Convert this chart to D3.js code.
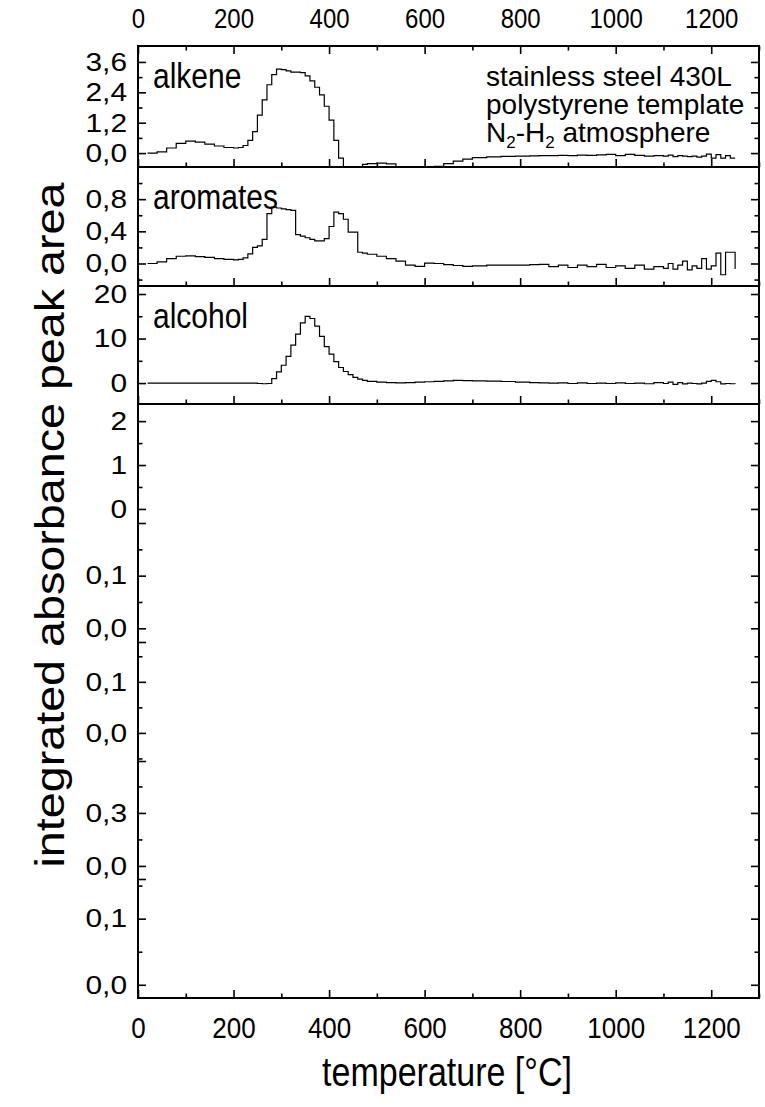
<!DOCTYPE html>
<html lang="en">
<head>
<meta charset="UTF-8">
<title>Evolved gas analysis - stainless steel 430L</title>
<script src="https://cdn.jsdelivr.net/npm/d3@7"></script>
<style>
    body{ margin:0; background:#fff; }
    svg{ display:block; font-family:"Liberation Sans", Arial, sans-serif; }
    .frame{ stroke:#000; stroke-width:2px; fill:none; }
    .axis path{ display:none; }
    .axis line{ stroke:#000; stroke-width:1.6px; }
    .axis text{ fill:#000; }
    .trace{ fill:none; stroke:#000; stroke-width:1.2px; }
    .plabel{ font-size:30px; }
    .note{ font-size:28px; }
</style>
</head>
<body>
<svg id="chart"></svg>
<script>
// temperature grid [°C]
const temps = [20,40,60,80,100,120,140,160,180,200,210,220,230,240,250,260,270,280,290,300,
    310,320,330,340,350,360,370,380,390,400,410,420,430,440,450,460,470,480,500,520,
    540,560,580,600,620,640,660,680,700,730,760,790,820,840,860,880,900,920,940,960,
    980,1000,1020,1040,1060,1080,1100,1110,1120,1130,1140,1150,1160,1170,1180,1190,1200,1210,1220,1230,
    1240,1250];

const alkene = [0.0,0.05,0.2,0.38,0.47,0.43,0.35,0.28,0.22,0.2,0.22,0.3,0.5,0.85,1.5,2.1,2.7,3.1,3.32,3.3,
    3.25,3.2,3.2,3.18,3.05,2.85,2.6,2.3,1.85,1.3,0.5,-0.2,-0.7,-0.7,-0.7,-0.7,-0.45,-0.42,-0.4,-0.43,
    -0.7,-0.7,-0.7,-0.7,-0.52,-0.42,-0.32,-0.24,-0.18,-0.15,-0.13,-0.12,-0.11,-0.1,-0.1,-0.09,-0.1,-0.08,-0.09,-0.07,
    -0.05,-0.1,-0.05,-0.09,-0.12,-0.1,-0.12,-0.08,-0.14,-0.1,-0.12,-0.14,-0.12,-0.16,-0.12,-0.04,-0.2,-0.06,-0.2,-0.1,
    -0.2,-0.2];

const aromates = [0.0,0.02,0.06,0.09,0.095,0.085,0.075,0.06,0.05,0.045,0.05,0.07,0.12,0.2,0.22,0.3,0.62,0.7,0.69,0.68,
    0.67,0.66,0.36,0.34,0.32,0.3,0.28,0.28,0.31,0.46,0.64,0.62,0.55,0.39,0.39,0.14,0.13,0.115,0.09,0.06,
    0.03,-0.02,-0.035,0.005,0.0,-0.015,-0.025,-0.035,-0.03,-0.02,-0.02,-0.02,-0.015,-0.01,-0.04,-0.02,-0.05,-0.02,-0.04,-0.01,
    -0.05,-0.03,-0.06,-0.02,-0.07,-0.04,-0.06,0.0,-0.07,-0.02,0.03,-0.08,-0.03,-0.06,0.06,-0.07,-0.03,0.13,-0.14,0.14,
    0.14,-0.07];

const alcohol = [0,0,0,0,0,0,0,0,0,0,0,0,0,0,-0.1,-0.15,-0.1,1.0,2.5,4.0,
    6.0,8.5,11.0,13.5,15.0,14.5,12.8,10.5,8.2,6.5,4.8,3.5,2.6,1.9,1.3,0.9,0.6,0.4,0.2,0.1,
    0.05,0.1,0.2,0.3,0.4,0.5,0.6,0.55,0.5,0.45,0.35,0.2,0.1,0.05,0.0,0.05,-0.1,0.05,-0.1,0.0,
    -0.1,0.05,-0.1,0.0,-0.15,0.1,-0.1,0.2,-0.3,0.1,-0.2,0.0,-0.1,-0.2,0.0,0.4,0.6,0.3,-0.2,-0.1,
    -0.15,-0.2];

// stacked layers, top to bottom
const panelNames   = ["alkene","aromates","alcohol","","","","",""];
const panelSeries  = [alkene, aromates, alcohol, null, null, null, null, null];
const panelDomains = [[-0.55,4.23],[-0.28,1.2],[-4.7,21.8],[-0.32,2.39],[-0.026,0.2],[-0.055,0.178],[-0.074,0.594],[-0.02,0.16]];
const panelMajor   = [[0,1.2,2.4,3.6],[0,0.4,0.8],[0,10,20],[0,1,2],[0,0.1],[0,0.1],[0,0.3],[0,0.1]];
const panelMinor   = [[0.6,1.8,3.0],[-0.2,0.2,0.6,1.0],[5,15],[0.5,1.5],[0.05,0.15],[-0.05,0.05,0.15],[0.15,0.45],[0.05,0.15]];
const panelDigits  = [1,1,0,0,1,1,1,1];

const xMajor = [0,200,400,600,800,1000,1200];
const xMinor = [100,300,500,700,900,1100,1300];
const noteLines = ["stainless steel 430L","polystyrene template"];

const width = 765, height = 1107;
const plotLeft = 138, plotRight = 759, plotTop = 46, plotBottom = 998;
const panelTops = [46,167,286,404,523,642,761,879,998];
const vs = 1.17;   // the original figure is a bit stretched vertically

const svg = d3.select('#chart').attr('width', width).attr('height', height);
const comma = d3.formatLocale({decimal: ",", thousands: ".", grouping: [3], currency: ["", ""]});

const x = d3.scaleLinear().domain([0,1300]).range([plotLeft,plotRight]);

// stretch text vertically around its own baseline
function stretch(sel){
    sel.each(function(){
        const t = d3.select(this);
        const yy = +t.attr('y') || 0;
        t.attr('transform', `translate(0,${yy}) scale(1,${vs}) translate(0,${-yy})`);
    });
}
// widen y tick labels around their right edge (keeps stacked labels apart)
function widen(sel){
    sel.each(function(){
        const t = d3.select(this);
        const xx = +t.attr('x') || 0;
        t.attr('transform', `translate(${xx},0) scale(1.15,1) translate(${-xx},0)`);
    });
}

const defs = svg.append('defs');

panelNames.forEach(function(name, i){
    const y0 = panelTops[i], y1 = panelTops[i+1];
    const y = d3.scaleLinear().domain(panelDomains[i]).range([y1, y0]);
    const g = svg.append('g').attr('class','panel');
    const empty = panelSeries[i] === null;
    const fmt = comma.format('.' + panelDigits[i] + 'f');

    // left / right axes, ticks point inward
    g.append('g').attr('class','axis').attr('transform',`translate(${plotLeft},0)`)
        .call(d3.axisLeft(y).tickValues(panelMajor[i]).tickSize(-8).tickPadding(11).tickFormat(fmt))
        .attr('font-size',26).attr('font-family',null)
        .call(a => widen(a.selectAll('text')));
    g.append('g').attr('class','axis').attr('transform',`translate(${plotLeft},0)`)
        .call(d3.axisLeft(y).tickValues(panelMinor[i]).tickSize(-4.5).tickFormat(''));
    g.append('g').attr('class','axis').attr('transform',`translate(${plotRight},0)`)
        .call(d3.axisRight(y).tickValues(panelMajor[i]).tickSize(-8).tickFormat(''));
    g.append('g').attr('class','axis').attr('transform',`translate(${plotRight},0)`)
        .call(d3.axisRight(y).tickValues(panelMinor[i]).tickSize(-4.5).tickFormat(''));

    if (empty && i < panelNames.length-1) {
        // end tick of the layer's axis
        g.append('g').attr('class','axis').attr('transform',`translate(${plotLeft},0)`)
            .call(d3.axisLeft(y).tickValues([panelDomains[i][0]]).tickSize(-8).tickFormat(''));
    }

    if (!empty) {
        // bottom ticks of each data layer
        g.append('g').attr('class','axis').attr('transform',`translate(0,${y1})`)
            .call(d3.axisBottom(x).tickValues(xMajor).tickSize(-8).tickFormat(''));
        g.append('g').attr('class','axis').attr('transform',`translate(0,${y1})`)
            .call(d3.axisBottom(x).tickValues(xMinor).tickSize(-4.5).tickFormat(''));
        g.append('line').attr('class','frame')
            .attr('x1',plotLeft).attr('x2',plotRight).attr('y1',y1).attr('y2',y1);

        defs.append('clipPath').attr('id','clip'+i).append('rect')
            .attr('x',plotLeft).attr('y',y0).attr('width',plotRight-plotLeft).attr('height',y1-y0);

        const line = d3.line()
            .x((d,k)=>x(temps[k]))
            .y(d=>y(d))
            .curve(d3.curveStepAfter);
        g.append('path').attr('class','trace')
            .attr('clip-path',`url(#clip${i})`)
            .attr('d', line(panelSeries[i]));

        g.append('text').attr('class','plabel')
            .attr('x', plotLeft+15).attr('y', y0+42)
            .text(name)
            .call(stretch);
    }
});

// top axis
svg.append('g').attr('class','axis').attr('transform',`translate(0,${plotTop})`)
    .call(d3.axisTop(x).tickValues(xMajor).tickSize(-8).tickPadding(18).tickFormat(d3.format('d')))
    .attr('font-size',24).attr('font-family',null)
    .call(a => stretch(a.selectAll('text')));
svg.append('g').attr('class','axis').attr('transform',`translate(0,${plotTop})`)
    .call(d3.axisTop(x).tickValues(xMinor).tickSize(-4.5).tickFormat(''));

// bottom axis
svg.append('g').attr('class','axis').attr('transform',`translate(0,${plotBottom})`)
    .call(d3.axisBottom(x).tickValues(xMajor).tickSize(-8).tickPadding(18).tickFormat(d3.format('d')))
    .attr('font-size',26).attr('font-family',null)
    .call(a => stretch(a.selectAll('text')));
svg.append('g').attr('class','axis').attr('transform',`translate(0,${plotBottom})`)
    .call(d3.axisBottom(x).tickValues(xMinor).tickSize(-4.5).tickFormat(''));

// outer frame
svg.append('rect').attr('class','frame')
    .attr('x',plotLeft).attr('y',plotTop).attr('width',plotRight-plotLeft).attr('height',plotBottom-plotTop);

// annotation
const note = svg.append('g').attr('class','note');
noteLines.forEach(function(t,k){
    note.append('text').attr('x',486).attr('y',86+28*k).text(t);
});
const n2 = note.append('text').attr('x',486).attr('y',142);
n2.append('tspan').text('N');
n2.append('tspan').attr('font-size',17).attr('dy',6).text('2');
n2.append('tspan').attr('dy',-6).text('-H');
n2.append('tspan').attr('font-size',17).attr('dy',6).text('2');
n2.append('tspan').attr('dy',-6).text(' atmosphere');

// axis titles
svg.append('text')
    .attr('transform','translate(64,525) rotate(-90)')
    .attr('text-anchor','middle')
    .attr('font-size',40)
    .attr('textLength',685)
    .attr('lengthAdjust','spacingAndGlyphs')
    .text('integrated absorbance peak area');
svg.append('text')
    .attr('x',447).attr('y',1086)
    .attr('text-anchor','middle')
    .attr('font-size',34)
    .text('temperature [°C]')
    .call(stretch);
</script>
</body>
</html>
